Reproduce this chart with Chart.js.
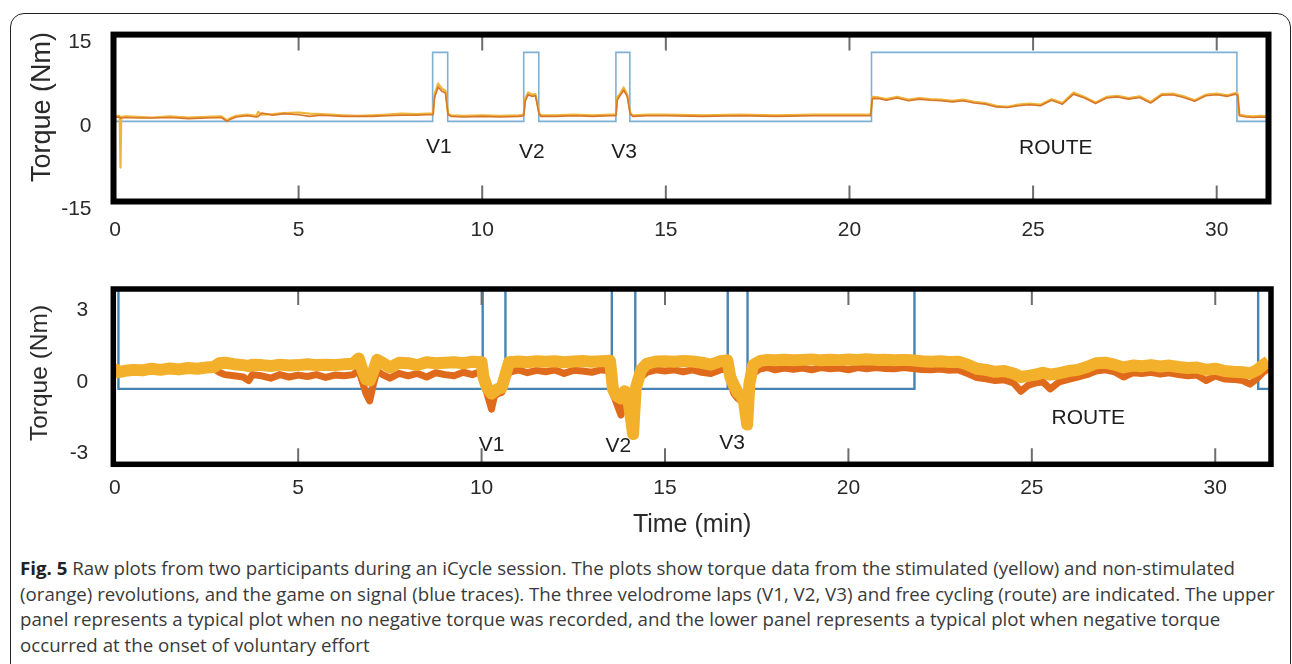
<!DOCTYPE html>
<html>
<head>
<meta charset="utf-8">
<script src="https://cdn.jsdelivr.net/npm/chart.js@4.4.1/dist/chart.umd.min.js"></script>
<style>
  html, body { margin: 0; padding: 0; background: #fff; }
  #page { position: relative; width: 1292px; height: 664px; overflow: hidden; background: #fff; }
  #frame { position: absolute; left: 10px; top: 13px; width: 1281px; height: 720px; box-sizing: border-box;
           border: 1.5px solid #222; border-radius: 14px; }
  canvas { position: absolute; left: 0; }
  #topChart { top: 0; }
  #lowChart { top: 250px; }
  .cap { position: absolute; left: 20px; height: 25.5px; line-height: 25.5px; white-space: nowrap;
         font-family: 'Open Sans', sans-serif; font-size: 18.5px; color: #3a3a3a; transform-origin: 0 50%; }
  .cap b { color: #222; }
</style>
</head>
<body>
<div id="page">
  <div id="frame"></div>
  <canvas id="topChart" width="1292" height="260"></canvas>
  <canvas id="lowChart" width="1292" height="290"></canvas>
  <div class="cap" style="top:555px"><b>Fig. 5</b> Raw plots from two participants during an iCycle session. The plots show torque data from the stimulated (yellow) and non-stimulated</div>
  <div class="cap" style="top:580.5px">(orange) revolutions, and the game on signal (blue traces). The three velodrome laps (V1, V2, V3) and free cycling (route) are indicated. The upper</div>
  <div class="cap" style="top:606px">panel represents a typical plot when no negative torque was recorded, and the lower panel represents a typical plot when negative torque</div>
  <div class="cap" style="top:631.5px">occurred at the onset of voluntary effort</div>
</div>
<script>
// x axis (minutes), shared by both panels
var xTicks = [0, 5, 10, 15, 20, 25, 30];

// ---- upper panel: no negative torque ----
var topTime = [
    0, 0.1, 0.13, 0.15, 0.17, 0.3, 0.6, 1.0, 1.5, 2.0,
    2.5, 2.9, 3.05, 3.15, 3.3, 3.6, 3.85, 3.9, 4.0, 4.3,
    4.6, 5.0, 5.3, 5.6, 5.9, 6.2, 6.6, 7.0, 7.4, 7.8,
    8.2, 8.5, 8.66, 8.7, 8.8, 8.9, 9.0, 9.07, 9.15, 9.5,
    10.0, 10.5, 11.0, 11.13, 11.17, 11.25, 11.35, 11.45, 11.55, 11.6,
    12.0, 12.5, 13.0, 13.5, 13.64, 13.68, 13.75, 13.85, 13.95, 14.03,
    14.1, 14.5, 15.0, 16.0, 17.0, 18.0, 19.0, 20.0, 20.58, 20.62,
    20.8, 21.0, 21.3, 21.6, 21.9, 22.2, 22.5, 22.8, 23.1, 23.4,
    23.7, 24.0, 24.3, 24.6, 24.9, 25.2, 25.5, 25.8, 26.1, 26.4,
    26.7, 27.0, 27.3, 27.6, 27.9, 28.2, 28.5, 28.8, 29.1, 29.4,
    29.7, 30.0, 30.3, 30.5, 30.57, 30.62, 30.8, 31.0, 31.2, 31.4
];
var topStim = [
    0.3, 0.4, 0.3, -8.9, 0.2, 0.3, 0.2, 0.1, 0.3, 0.1,
    0.2, 0.3, -0.4, 0.0, 0.4, 0.6, 0.4, 1.1, 0.6, 0.7,
    0.9, 1.0, 0.8, 0.7, 0.6, 0.5, 0.4, 0.5, 0.6, 0.8,
    0.7, 0.8, 0.8, 4.2, 6.2, 5.3, 4.9, 0.8, 0.5, 0.4,
    0.5, 0.4, 0.5, 0.6, 3.5, 4.6, 4.2, 4.3, 0.9, 0.5,
    0.5, 0.6, 0.5, 0.6, 0.6, 3.8, 4.3, 5.5, 4.2, 0.9,
    0.5, 0.6, 0.6, 0.5, 0.6, 0.5, 0.6, 0.6, 0.6, 3.8,
    3.7, 3.4, 3.8, 3.3, 3.6, 3.4, 3.3, 3.1, 3.3, 2.9,
    2.7, 2.2, 2.0, 2.4, 2.6, 2.4, 3.4, 2.7, 4.6, 3.8,
    2.8, 3.8, 4.0, 3.6, 3.9, 2.9, 4.3, 4.4, 3.9, 3.2,
    4.2, 4.4, 4.1, 4.5, 4.3, 0.6, 0.4, 0.3, 0.4, 0.3
];
var topNonStim = [
    0.1, 0.2, 0.1, 0.0, 0.0, 0.1, 0.0, 0.0, 0.1, -0.1,
    0.0, 0.1, -0.6, -0.2, 0.2, 0.4, 0.2, 0.3, 0.9, 0.5,
    0.8, 0.6, 0.3, 0.5, 0.4, 0.3, 0.3, 0.3, 0.4, 0.5,
    0.5, 0.6, 0.6, 3.6, 5.6, 4.8, 4.5, 0.6, 0.3, 0.2,
    0.3, 0.2, 0.3, 0.4, 3.0, 4.2, 3.9, 4.0, 0.7, 0.3,
    0.3, 0.4, 0.3, 0.4, 0.4, 3.3, 4.0, 5.0, 3.9, 0.7,
    0.3, 0.4, 0.4, 0.3, 0.4, 0.3, 0.4, 0.4, 0.4, 3.5,
    3.5, 3.2, 3.6, 3.1, 3.4, 3.2, 3.1, 2.9, 3.1, 2.7,
    2.5, 2.0, 1.9, 2.2, 2.4, 2.2, 3.2, 2.5, 4.3, 3.6,
    2.6, 3.6, 3.8, 3.4, 3.7, 2.7, 4.1, 4.2, 3.7, 3.0,
    4.0, 4.2, 3.9, 4.3, 4.1, 0.4, 0.2, 0.1, 0.2, 0.1
];
// game-on signal: level starting at each time
var topGameTime = [0, 8.65, 9.06, 11.13, 11.54, 13.64, 14.02, 20.6, 30.55, 31.41];
var topGameOn = [-0.6, 11.8, -0.6, 11.8, -0.6, 11.8, -0.6, 11.8, -0.6, -0.6];
var topTicksY = [-15, 0, 15];
var topNoteText = ['V1', 'V2', 'V3', 'ROUTE'];
var topNoteTime = [8.82, 11.35, 13.86, 25.62];
var topNoteTorque = [-5.25, -6.1, -6.1, -5.5];

// ---- lower panel: negative torque at onset of voluntary effort ----
var lowTime = [
    0, 0.05, 0.1, 0.25, 0.5, 0.75, 1.0, 1.25, 1.5, 1.75,
    2.0, 2.25, 2.5, 2.7, 2.85, 3.0, 3.25, 3.5, 3.65, 3.75,
    4.0, 4.25, 4.5, 4.75, 5.0, 5.25, 5.5, 5.75, 6.0, 6.25,
    6.5, 6.65, 6.75, 6.85, 6.95, 7.05, 7.15, 7.3, 7.5, 7.75,
    8.0, 8.25, 8.5, 8.75, 9.0, 9.25, 9.5, 9.75, 10.0, 10.05,
    10.15, 10.27, 10.35, 10.45, 10.55, 10.65, 10.75, 11.0, 11.25, 11.5,
    11.75, 12.0, 12.25, 12.5, 12.75, 13.0, 13.25, 13.5, 13.58, 13.68,
    13.8, 13.9, 13.98, 14.06, 14.13, 14.2, 14.35, 14.5, 14.75, 15.0,
    15.25, 15.5, 15.75, 16.0, 16.25, 16.5, 16.7, 16.78, 16.88, 16.98,
    17.08, 17.16, 17.24, 17.3, 17.4, 17.6, 17.8, 18.0, 18.25, 18.5,
    18.75, 19.0, 19.25, 19.5, 19.75, 20.0, 20.25, 20.5, 20.75, 21.0,
    21.25, 21.5, 21.75, 22.0, 22.25, 22.5, 22.75, 23.0, 23.25, 23.5,
    23.75, 24.0, 24.25, 24.5, 24.7, 24.9, 25.1, 25.3, 25.5, 25.75,
    26.0, 26.25, 26.5, 26.75, 27.0, 27.25, 27.5, 27.75, 28.0, 28.25,
    28.5, 28.75, 29.0, 29.25, 29.5, 29.75, 30.0, 30.25, 30.5, 30.75,
    30.95, 31.15, 31.3, 31.45
];
var lowStim = [
    0.3, 0.5, 0.4, 0.45, 0.5, 0.48, 0.55, 0.5, 0.56, 0.52,
    0.58, 0.55, 0.6, 0.62, 0.78, 0.8, 0.74, 0.7, 0.66, 0.72,
    0.7, 0.66, 0.72, 0.68, 0.7, 0.74, 0.7, 0.72, 0.7, 0.74,
    0.76, 0.98, 0.5, 0.1, 0.05, 0.45, 0.92, 0.8, 0.6, 0.8,
    0.78, 0.7, 0.82, 0.78, 0.8, 0.82, 0.78, 0.84, 0.82, 0.2,
    -0.25, -0.5, -0.4, -0.3, -0.25, 0.3, 0.82, 0.85, 0.82, 0.86,
    0.84, 0.86, 0.82, 0.85, 0.87, 0.84, 0.86, 0.88, -0.3, -0.6,
    -0.7, -0.4, -0.5, -1.4, -2.2, -0.3, 0.5, 0.75, 0.85, 0.86,
    0.84, 0.87, 0.85, 0.8, 0.72, 0.86, 0.9, 0.2, -0.15, -0.45,
    -0.6, -0.9, -1.8, -0.1, 0.7, 0.88, 0.92, 0.9, 0.93, 0.9,
    0.92, 0.94, 0.9, 0.93, 0.91, 0.94, 0.92, 0.95, 0.92, 0.93,
    0.9, 0.92, 0.9, 0.86, 0.84, 0.86, 0.83, 0.84, 0.72, 0.55,
    0.5, 0.42, 0.45, 0.35, 0.2, 0.25, 0.3, 0.38, 0.3, 0.36,
    0.45, 0.5, 0.62, 0.78, 0.8, 0.72, 0.6, 0.68, 0.65, 0.7,
    0.64, 0.68, 0.62, 0.58, 0.6, 0.5, 0.55, 0.45, 0.42, 0.4,
    0.35, 0.5, 0.7, 0.85
];
var lowNonStim = [
    0.3, 0.5, 0.4, 0.45, 0.5, 0.48, 0.55, 0.5, 0.56, 0.52,
    0.58, 0.55, 0.6, 0.55, 0.4, 0.3, 0.25, 0.2, 0.05, 0.3,
    0.25, 0.15, 0.3, 0.2, 0.28, 0.22, 0.3, 0.18, 0.28, 0.25,
    0.3, 0.5, 0.0, -0.5, -0.8, -0.1, 0.45, 0.3, 0.15, 0.35,
    0.25, 0.35, 0.2, 0.38, 0.3, 0.25, 0.4, 0.3, 0.45, 0.0,
    -0.5, -1.15, -0.6, -0.5, -0.45, 0.0, 0.4, 0.5, 0.38, 0.48,
    0.42, 0.5, 0.35, 0.48, 0.45, 0.4, 0.5, 0.45, -0.5, -0.9,
    -1.4, -0.9, -0.5, -0.6, -0.9, -0.4, 0.2, 0.4, 0.5, 0.45,
    0.5, 0.42, 0.5, 0.4, 0.35, 0.5, 0.55, 0.0, -0.5, -0.7,
    -0.8, -1.0, -0.9, -0.2, 0.35, 0.55, 0.6, 0.5, 0.58, 0.52,
    0.58, 0.5, 0.6, 0.55, 0.58, 0.5, 0.6, 0.55, 0.6, 0.56,
    0.55, 0.6, 0.56, 0.52, 0.5, 0.54, 0.48, 0.5, 0.35, 0.18,
    0.12, 0.05, 0.08, -0.05, -0.4, -0.15, -0.05, 0.0, -0.3, 0.0,
    0.1, 0.2, 0.3, 0.45, 0.5, 0.42, 0.2, 0.38, 0.35, 0.4,
    0.32, 0.38, 0.3, 0.25, 0.28, 0.05, 0.25, 0.12, 0.1, 0.05,
    -0.1, 0.15, 0.4, 0.55
];
var lowGameTime = [0, 0.1, 10.03, 10.65, 13.55, 14.19, 16.71, 17.25, 21.8, 31.17, 31.52];
var lowGameOn = [4.6, -0.3, 4.6, -0.3, 4.6, -0.3, 4.6, -0.3, 4.6, -0.3, -0.3];
var lowTicksY = [-3, 0, 3];
var lowNoteText = ['V1', 'V2', 'V3', 'ROUTE'];
var lowNoteTime = [10.27, 13.73, 16.83, 26.54];
var lowNoteTorque = [-2.65, -2.72, -2.58, -1.53];

Chart.defaults.font.family = "'Liberation Sans', Arial, sans-serif";
Chart.defaults.color = '#2a2a2a';

function toPoints(xs, ys) {
    return xs.map(function (x, i) { return { x: x, y: ys[i] }; });
}

// thick box, inward x ticks, lap labels and the rotated y title
function plotFrame(cfg) {
    return {
        id: 'plotFrame',
        afterDatasetsDraw: function (chart) {
            var ctx = chart.ctx, a = chart.chartArea;
            var xs = chart.scales.x, ys = chart.scales.y;
            ctx.save();
            ctx.strokeStyle = '#6d6d6d';
            ctx.lineWidth = 2;
            xs.ticks.forEach(function (t) {
                var px = xs.getPixelForValue(t.value);
                ctx.beginPath();
                ctx.moveTo(px, a.top);
                ctx.lineTo(px, a.top + 16);
                ctx.moveTo(px, a.bottom);
                ctx.lineTo(px, a.bottom - 16);
                ctx.stroke();
            });
            ctx.strokeStyle = '#000';
            ctx.lineWidth = cfg.boxWidth;
            ctx.strokeRect(a.left, a.top, a.right - a.left, a.bottom - a.top);

            ctx.fillStyle = '#1e1e1e';
            ctx.font = "21px 'Liberation Sans', Arial, sans-serif";
            ctx.textAlign = 'center';
            ctx.textBaseline = 'middle';
            cfg.noteText.forEach(function (txt, i) {
                ctx.fillText(txt, xs.getPixelForValue(cfg.noteTime[i]), ys.getPixelForValue(cfg.noteTorque[i]));
            });

            ctx.translate(cfg.titleX, cfg.titleY);
            ctx.rotate(-Math.PI / 2);
            ctx.fillStyle = '#2a2a2a';
            ctx.font = cfg.titleSize + "px 'Liberation Sans', Arial, sans-serif";
            ctx.fillText('Torque (Nm)', 0, 0);
            ctx.restore();
        }
    };
}

function makePanel(id, cfg) {
    var tickFont = { size: 21 };
    return new Chart(document.getElementById(id), {
        type: 'line',
        data: {
            datasets: [
                {
                    label: 'Stimulated',
                    data: toPoints(cfg.time, cfg.stim),
                    borderColor: cfg.stimColor,
                    borderWidth: cfg.stimWidth,
                    borderJoinStyle: 'round',
                    pointRadius: 0,
                    clip: 0,
                    order: 1
                },
                {
                    label: 'Non-stimulated',
                    data: toPoints(cfg.time, cfg.nonStim),
                    borderColor: cfg.nonStimColor,
                    borderWidth: cfg.nonStimWidth,
                    borderJoinStyle: 'round',
                    pointRadius: 0,
                    clip: 0,
                    order: cfg.nonStimOrder
                },
                {
                    label: 'Game on',
                    data: toPoints(cfg.gameTime, cfg.gameOn),
                    borderColor: cfg.gameColor,
                    borderWidth: cfg.gameWidth,
                    stepped: 'before',
                    pointRadius: 0,
                    clip: 0,
                    order: 3
                }
            ]
        },
        options: {
            responsive: false,
            animation: false,
            events: [],
            layout: { padding: cfg.padding },
            plugins: { legend: { display: false }, tooltip: { enabled: false } },
            scales: {
                x: {
                    type: 'linear',
                    min: -0.04,
                    max: cfg.xMax,
                    afterBuildTicks: function (s) { s.ticks = xTicks.map(function (v) { return { value: v }; }); },
                    afterFit: function (s) { s.height = cfg.xHeight; },
                    grid: { display: false, drawTicks: false },
                    border: { display: false },
                    ticks: { font: tickFont, padding: cfg.xPad, maxRotation: 0, autoSkip: false },
                    title: cfg.xTitle
                },
                y: {
                    type: 'linear',
                    min: cfg.yMin,
                    max: cfg.yMax,
                    afterBuildTicks: function (s) { s.ticks = cfg.yTicks.map(function (v) { return { value: v }; }); },
                    afterFit: function (s) { s.width = cfg.yWidth; },
                    grid: { display: false, drawTicks: false },
                    border: { display: false },
                    ticks: { font: tickFont, padding: cfg.yPad, labelOffset: cfg.yLabelOffset }
                }
            }
        },
        plugins: [plotFrame(cfg)]
    });
}

makePanel('topChart', {
    time: topTime, stim: topStim, nonStim: topNonStim,
    gameTime: topGameTime, gameOn: topGameOn,
    stimColor: '#efb43a', stimWidth: 2.2, nonStimColor: '#d8762a', nonStimWidth: 1.6, nonStimOrder: 0,
    gameColor: '#7eb0d2', gameWidth: 1.6,
    padding: { top: 34, right: 23.5, left: 0, bottom: 0 },
    xMax: 31.41, xHeight: 58.5, xPad: 16.5, xTitle: { display: false },
    yMin: -15, yMax: 15, yTicks: topTicksY, yWidth: 113.5, yPad: 22, yLabelOffset: 8,
    boxWidth: 6,
    noteText: topNoteText, noteTime: topNoteTime, noteTorque: topNoteTorque,
    titleX: 43, titleY: 107, titleSize: 27
});

makePanel('lowChart', {
    time: lowTime, stim: lowStim, nonStim: lowNonStim,
    gameTime: lowGameTime, gameOn: lowGameOn,
    stimColor: '#f3b02a', stimWidth: 12, nonStimColor: '#e06a1c', nonStimWidth: 7, nonStimOrder: 2,
    gameColor: '#4685b3', gameWidth: 2.4,
    padding: { top: 39, right: 21, left: 0, bottom: 0 },
    xMax: 31.52, xHeight: 75.7, xPad: 11,
    xTitle: { display: true, text: 'Time (min)', color: '#2a2a2a', font: { size: 25, lineHeight: 1.2 }, padding: { top: 0, bottom: 0 } },
    yMin: -3.47, yMax: 3.9, yTicks: lowTicksY, yWidth: 113.3, yPad: 25, yLabelOffset: 0,
    boxWidth: 5.5,
    noteText: lowNoteText, noteTime: lowNoteTime, noteTorque: lowNoteTorque,
    titleX: 40, titleY: 123, titleSize: 24.5
});

// squeeze the caption lines to the column width of the original
document.fonts.ready.then(function () {
    var lines = document.querySelectorAll('.cap');
    var k = 1215 / lines[0].getBoundingClientRect().width;
    lines.forEach(function (el) { el.style.transform = 'scaleX(' + k + ')'; });
});
</script>
</body>
</html>
